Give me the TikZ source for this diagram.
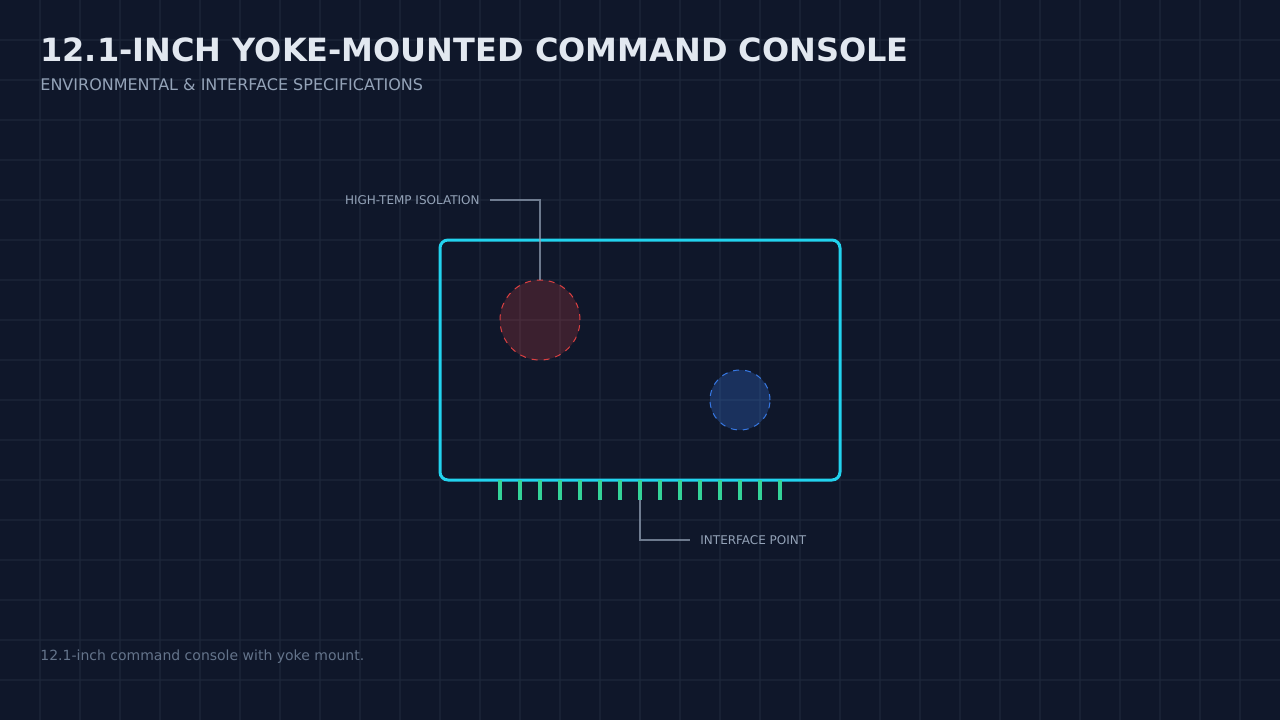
\documentclass[tikz,border=0pt]{standalone}
\usepackage{fontspec}
\setmainfont{DejaVu Sans}
\usetikzlibrary{positioning}
\definecolor{bgnavy}{HTML}{0F172A}
\definecolor{gridnavy}{HTML}{1E293B}
\definecolor{titlewhite}{HTML}{E2E8F0}
\definecolor{subgray}{HTML}{94A3B8}
\definecolor{capgray}{HTML}{64748B}
\definecolor{casecyan}{HTML}{22D3EE}
\definecolor{hotred}{HTML}{EF4444}
\definecolor{coolblue}{HTML}{3B82F6}
\definecolor{contactgreen}{HTML}{34D399}
\tikzset{
  gridline/.style={gridnavy, line width=0.75pt, opacity=0.6},
  casebox/.style={draw=casecyan, line width=1.5pt, rounded corners=4pt},
  hotzone/.style={circle, draw=hotred, dashed, line width=0.5pt, fill=hotred, fill opacity=0.2, draw opacity=0.9, minimum size=40pt, inner sep=0pt},
  coolzone/.style={circle, draw=coolblue, dashed, line width=0.5pt, fill=coolblue, fill opacity=0.25, draw opacity=0.9, minimum size=30pt, inner sep=0pt},
  contact/.style={fill=contactgreen, minimum width=2pt, minimum height=10pt, inner sep=0pt},
  leader/.style={draw=subgray, draw opacity=0.7, line width=0.75pt},
  calltext/.style={text=subgray, font=\fontsize{6pt}{7.5pt}\selectfont, inner ysep=0pt, inner xsep=5pt}
}
\begin{document}
\begin{tikzpicture}[x=0.5pt, y=-0.5pt]
  \useasboundingbox (0,0) rectangle (1280,720);
  \fill[bgnavy] (0,0) rectangle (1280,720);
  \foreach \gx in {40,80,...,1240}
    \draw[gridline] (\gx,0) -- (\gx,720);
  \foreach \gy in {40,80,...,680}
    \draw[gridline] (0,\gy) -- (1280,\gy);

  \node[anchor=base west, inner sep=0pt, text=titlewhite, font=\fontsize{16pt}{19pt}\selectfont\bfseries] (title) at (40,61) {12.1-INCH YOKE-MOUNTED COMMAND CONSOLE};
  \node[anchor=base west, inner sep=0pt, text=subgray, font=\fontsize{8pt}{10pt}\selectfont] (subtitle) at (40,90) {ENVIRONMENTAL \& INTERFACE SPECIFICATIONS};
  \node[anchor=base west, inner sep=0pt, text=capgray, font=\fontsize{7pt}{9pt}\selectfont] (caption) at (40,660) {12.1-inch command console with yoke mount.};

  \draw[casebox] (440,240) rectangle (840,480);
  \node[hotzone] (hot) at (540,320) {};
  \node[coolzone] (cool) at (740,400) {};
  \foreach \i in {0,...,14}
    \node[contact] (contact\i) at (500+20*\i,490) {};

  \node[calltext, anchor=east] (isolabel) at (490,200) {HIGH-TEMP ISOLATION};
  \node[calltext, anchor=west] (portlabel) at (690,540) {INTERFACE POINT};
  \begin{scope}[leader]
    \draw (hot.north) |- (isolabel.east);
    \draw (contact7.south) |- (portlabel.west);
  \end{scope}
\end{tikzpicture}
\end{document}
